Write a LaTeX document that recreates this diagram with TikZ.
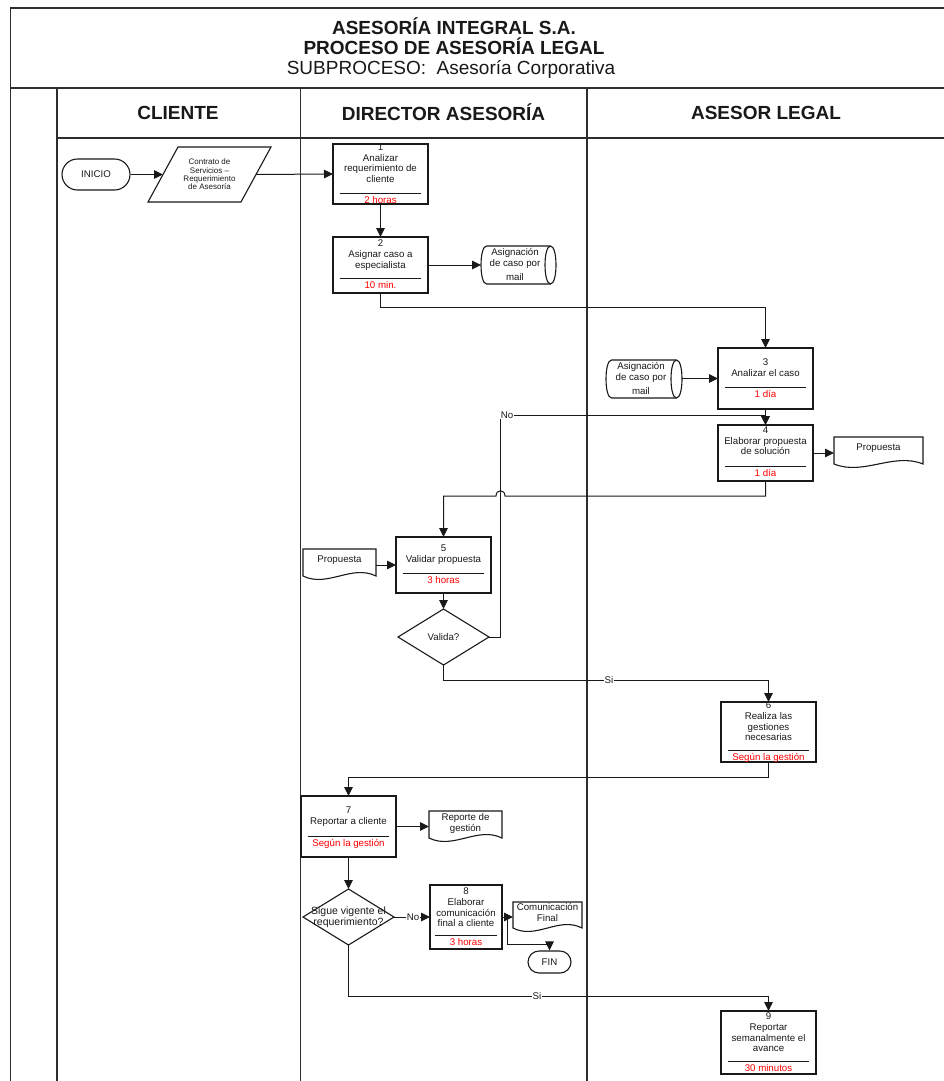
\documentclass[tikz,border=0pt]{standalone}
\usepackage{fontspec}
\setmainfont{Liberation Sans}
\usetikzlibrary{arrows.meta,fit}

\definecolor{ink}{RGB}{25,25,25}
\definecolor{laneink}{RGB}{45,45,45}
\definecolor{timered}{RGB}{255,0,0}

\newcommand\fsmall{\fontsize{9.7}{10.8}\selectfont}

\tikzset{
  lane/.style={draw=laneink, line width=1.4pt},
  shapeline/.style={draw=ink, line width=1.1pt, line join=miter},
  conn/.style={draw=ink, line width=1pt},
  flow/.style={conn, -{Triangle[length=9pt,width=8.5pt]}},
  hitbox/.style={inner sep=0pt, outer sep=0pt, draw=none},
  txt/.style={font=\fsmall, align=center, inner sep=0pt, text=ink},
  tinytxt/.style={font=\fontsize{8}{8.4}\selectfont, align=center, inner sep=0pt, text=ink},
  timetxt/.style={font=\fsmall, inner sep=0pt, text=timered, anchor=base},
  lbl/.style={font=\fsmall, fill=white, inner sep=0.6pt, text=ink},
  term/.style={draw=ink, line width=1.1pt, font=\fsmall, inner sep=0pt, text=ink},
  headtxt/.style={font=\fontsize{19}{21}\selectfont\bfseries, inner sep=0pt, text=ink},
}

% process step: name, left, top, right, bottom, text, first line y, rule y, duration
\newcommand\procstep[9]{%
  \node[hitbox, fit={(#2,#3) (#4,#5)}] (#1) {};
  \draw[shapeline] (#2,#3) rectangle (#4,#5);
  \node[txt, anchor=north] (#1-t) at ({(#2+#4)/2},{#7-3.5}) {#6};
  \draw[draw=ink, line width=0.8pt] ({#2+0.07*(#4-#2)},#8) -- ({#4-0.07*(#4-#2)},#8);
  \node[timetxt] (#1-d) at ({(#2+#4)/2},{#8+10}) {#9};
}

% document symbol with a wavy lower edge: name, left, top, right, bottom
\newcommand\docshape[5]{%
  \pgfmathsetmacro\docw{(#4)-(#2)}%
  \draw[shapeline] (#2,#3) -- (#4,#3) -- (#4,#5)
    .. controls ({#4-\docw/3},{#5-12}) and ({#2+\docw/3},{#5+12}) .. (#2,#5) -- cycle;
  \node[hitbox, fit={(#2,#3) (#4,#5)}] (#1) {};
}

% stored data (horizontal drum): name, left, top, right, bottom
\newcommand\cylshape[5]{%
  \pgfmathsetmacro\cylA{#2+5.5}%
  \pgfmathsetmacro\cylB{#4-5.5}%
  \pgfmathsetmacro\cylK{1.333*5.5}%
  \draw[shapeline] (\cylA,#3) -- (\cylB,#3)
    .. controls ({\cylB+\cylK},#3) and ({\cylB+\cylK},#5) .. (\cylB,#5) -- (\cylA,#5)
    .. controls ({\cylA-\cylK},#5) and ({\cylA-\cylK},#3) .. (\cylA,#3) -- cycle;
  \draw[shapeline] (\cylB,#3) .. controls ({\cylB-\cylK},#3) and ({\cylB-\cylK},#5) .. (\cylB,#5);
  \node[hitbox, fit={(#2,#3) (#4,#5)}] (#1) {};
}

\begin{document}
\begin{tikzpicture}[x=1pt,y=-1pt]
\useasboundingbox (0,0) rectangle (944,1081);

% ---------- frame and swimlanes ----------
\draw[lane] (944,8) -- (10.5,8) -- (10.5,1081);
\draw[lane] (10.5,88) -- (944,88);
\draw[lane] (57,88) -- (57,1081);
\draw[lane] (57,138) -- (944,138);
\draw[lane] (300.5,88) -- (300.5,1081);
\draw[lane] (587,88) -- (587,1081);

\node[headtxt] (title1) at (454,26) {ASESORÍA INTEGRAL S.A.};
\node[headtxt] (title2) at (454,46) {PROCESO DE ASESORÍA LEGAL};
\node[font=\fontsize{19}{21}\selectfont, inner sep=0pt, text=ink] (title3) at (451,69) {SUBPROCESO:\ \ Asesoría Corporativa};

\node[headtxt] (laneA) at (178,112.5) {CLIENTE};
\node[headtxt] (laneB) at (443.5,112.5) {DIRECTOR ASESORÍA};
\node[headtxt] (laneC) at (766,112.5) {ASESOR LEGAL};

% ---------- shapes ----------
\node[term, minimum width=68pt, minimum height=31pt, rounded corners=15.5pt] (inicio) at (96,174.5) {INICIO};

\draw[shapeline] (178,147) -- (271,147) -- (241,202) -- (148,202) -- cycle;
\node[hitbox, fit={(148,147) (271,202)}] (para) {};
\node[tinytxt] (para-t) at (209.5,174.5) {Contrato de\\Servicios –\\Requerimiento\\de Asesoría};
\coordinate (paraL) at (163,174.5);
\coordinate (paraR) at (256,174.5);

\procstep{s1}{333}{144}{428}{204}{1\\Analizar\\requerimiento de\\cliente}{147}{193}{2 horas}
\procstep{s2}{333}{237}{428}{293}{2\\Asignar caso a\\especialista}{243}{278}{10 min.}

\cylshape{cyl1}{481}{246}{556}{284}
\node[txt, anchor=north] (cyl1-t) at (515,248.5) {Asignación\\de caso por\\[3pt]mail};

\cylshape{cyl2}{606}{360}{682}{398}
\node[txt, anchor=north] (cyl2-t) at (641,362.5) {Asignación\\de caso por\\[3pt]mail};

\procstep{s3}{718}{348}{813}{409}{3\\Analizar el caso}{362}{387}{1 día}
\procstep{s4}{718}{425}{813}{481}{4\\Elaborar propuesta\\de solución}{430}{466}{1 día}

\docshape{doc1}{834}{437}{923}{464}
\node[txt] (doc1-t) at (878.5,448) {Propuesta};

\docshape{doc2}{303}{549}{376}{576}
\node[txt] (doc2-t) at (339.5,560) {Propuesta};

\procstep{s5}{396}{537}{491}{593}{5\\Validar propuesta}{548}{573}{3 horas}

\draw[shapeline] (443.5,609) -- (489,637) -- (443.5,665) -- (398,637) -- cycle;
\node[hitbox, fit={(398,609) (489,665)}] (d1) {};
\node[txt] (d1-t) at (443.5,637) {Valida?};

\procstep{s6}{721}{702}{816}{762}{6\\Realiza las\\gestiones\\necesarias}{705}{750}{Según la gestión}
\procstep{s7}{301}{796}{396}{857}{7\\Reportar a cliente}{810}{836}{Según la gestión}

\docshape{doc3}{429}{811}{502}{838}
\node[txt, anchor=north] (doc3-t) at (465.5,813.5) {Reporte de\\gestión};

\draw[shapeline] (348.5,889) -- (394,917) -- (348.5,945) -- (303,917) -- cycle;
\node[hitbox, fit={(303,889) (394,945)}] (d2) {};
\node[align=center, inner sep=0pt, text=ink, font=\fontsize{10.5}{9.5}\selectfont] (d2-t) at (348.5,917) {Sigue vigente el\\requerimiento?};

\procstep{s8}{430}{885}{502}{949}{8\\Elaborar\\comunicación\\final a cliente}{891}{935}{3 horas}

\docshape{doc4}{513}{902}{582}{928}
\node[txt, anchor=north] (doc4-t) at (547.5,903.5) {Comunicación\\Final};

\node[term, minimum width=43pt, minimum height=22pt, rounded corners=11pt] (fin) at (549.5,962) {FIN};

\procstep{s9}{721}{1011}{816}{1074}{9\\Reportar\\semanalmente el\\avance}{1016}{1061}{30 minutos}

% ---------- connectors ----------
\draw[flow] (inicio.east) -- (paraL);
\draw[flow] (paraR) -- (s1.west);
\draw[flow] (s1.south) -- (s2.north);
\draw[flow] (s2.east) -- (s2.east -| cyl1.west);
\draw[flow] (s2.south) -- ++(0,14) -| (s3.north);
\draw[flow] (s3.west -| cyl2.east) -- (s3.west);
\draw[flow] (s3.south) -- (s4.north);
\draw[flow] (s4.east) -- (s4.east -| doc1.west);
\draw[flow] (s4.south) -- ++(0,15) -- (505,496)
  .. controls (505,489) and (496,489) .. (496,496) -| (s5.north);
\draw[flow] (s5.west -| doc2.east) -- (s5.west);
\draw[flow] (s5.south) -- (d1.north);

\coordinate (noturn) at (500.5,415);
\draw[flow] (d1.east) -| (noturn) -- (noturn -| s4.north) -- (s4.north);
\node[lbl] (no1) at (507,415) {No};

\draw[flow] (d1.south) -- ++(0,15) -| (s6.north);
\node[lbl] (si1) at (609,680) {Si};

\draw[flow] (s6.south) -- ++(0,15) -| (s7.north);
\draw[flow] (s7.east) -- (s7.east -| doc3.west);
\draw[flow] (s7.south) -- (d2.north);

\draw[flow] (d2.east) -- (s8.west);
\node[lbl] (no2) at (413,917) {No};

\draw[flow] (s8.east) -- (s8.east -| doc4.west);
\coordinate (split) at (507,917);
\draw[flow] (split) -- ++(0,27) -| (fin.north);

\draw[flow] (d2.south) -- ++(0,51) -| (s9.north);
\node[lbl] (si2) at (537,996) {Si};

\end{tikzpicture}
\end{document}
